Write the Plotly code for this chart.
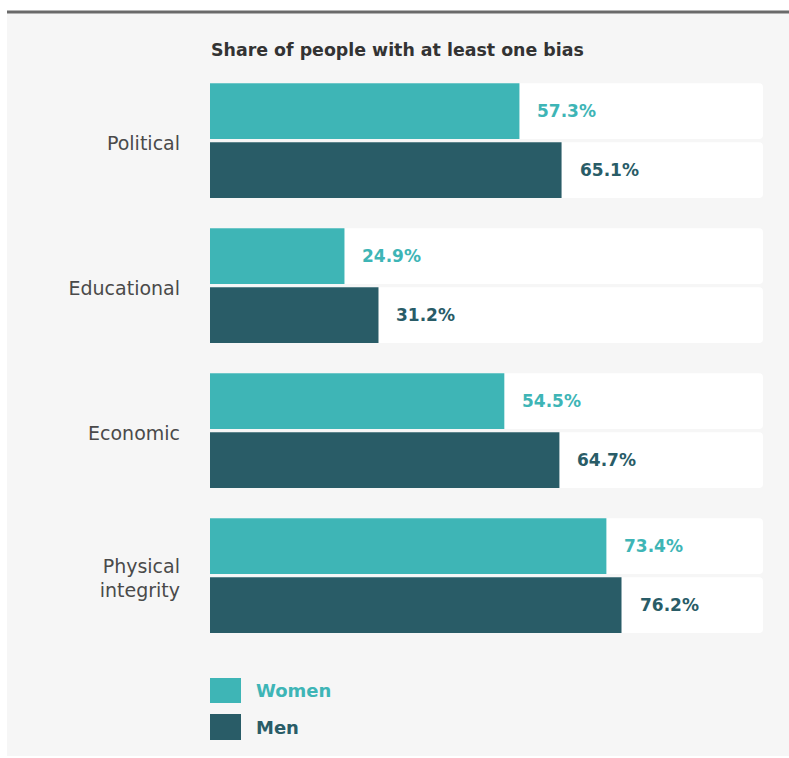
import plotly.graph_objects as go

categories = ["Political", "Educational", "Economic", "Physical<br>integrity"]
women = [57.3, 24.9, 54.5, 73.4]
men = [65.1, 31.2, 64.7, 76.2]
track_max = 102.4
title_text = "Share of people with at least one bias"
series_names = ["Women", "Men"]

C_WOMEN = "#3eb5b6"
C_MEN = "#295c67"
BG = "#f6f6f6"

W, H = 789, 758
L, R, T, B = 210, 26, 68, 110
PW, PH = W - L - R, H - T - B


def px(x):
    return (x - L) / PW


def py(y):
    return 1 - (y - T) / PH


fig = go.Figure()
BW = 0.385
OFF_W = -0.395
OFF_M = 0.012

for off in (OFF_W, OFF_M):
    fig.add_trace(go.Bar(
        y=categories, x=[track_max] * len(categories), orientation="h",
        marker=dict(color="#ffffff", line=dict(width=0), cornerradius=4),
        width=BW, offset=off, hoverinfo="skip", showlegend=False))

fig.add_trace(go.Bar(y=categories, x=women, orientation="h", name=series_names[0],
                     marker=dict(color=C_WOMEN, line=dict(width=0)),
                     width=BW, offset=OFF_W, showlegend=False))
fig.add_trace(go.Bar(y=categories, x=men, orientation="h", name=series_names[1],
                     marker=dict(color=C_MEN, line=dict(width=0)),
                     width=BW, offset=OFF_M, showlegend=False))

FONT = "'DejaVu Sans', 'Open Sans', Arial, sans-serif"
annotations = []
unit_px = PH / len(categories)
for i, cat in enumerate(categories):
    annotations.append(dict(x=women[i], y=cat, xref="x", yref="y", text="<b>%.1f%%</b>" % women[i],
                            showarrow=False, xanchor="left", xshift=16,
                            yshift=-(OFF_W + BW / 2) * unit_px,
                            font=dict(family=FONT, size=17, color=C_WOMEN)))
    annotations.append(dict(x=men[i], y=cat, xref="x", yref="y", text="<b>%.1f%%</b>" % men[i],
                            showarrow=False, xanchor="left", xshift=16,
                            yshift=-(OFF_M + BW / 2) * unit_px,
                            font=dict(family=FONT, size=17, color=C_MEN)))

annotations.append(dict(x=px(209), y=py(50), xref="paper", yref="paper", xanchor="left", yanchor="middle",
                        text="<b>" + title_text + "</b>", showarrow=False,
                        font=dict(family=FONT, size=17.4, color="#333333")))

shapes = [
    dict(type="rect", xref="paper", yref="paper", x0=px(0), x1=px(W), y0=py(12), y1=py(0),
         fillcolor="#ffffff", line=dict(width=0), layer="below"),
    dict(type="rect", xref="paper", yref="paper", x0=px(0), x1=px(7), y0=py(H), y1=py(0),
         fillcolor="#ffffff", line=dict(width=0), layer="below"),
    dict(type="rect", xref="paper", yref="paper", x0=px(0), x1=px(W), y0=py(H), y1=py(756),
         fillcolor="#ffffff", line=dict(width=0), layer="below"),
    dict(type="line", xref="paper", yref="paper", x0=px(7), x1=px(W), y0=py(12), y1=py(12),
         line=dict(color="#6a6a6a", width=3)),
]
leg = [(series_names[0], C_WOMEN, 678, 703), (series_names[1], C_MEN, 714, 740)]
for name, col, y0, y1 in leg:
    shapes.append(dict(type="rect", xref="paper", yref="paper", x0=px(210), x1=px(241),
                       y0=py(y1), y1=py(y0), fillcolor=col, line=dict(width=0)))
    annotations.append(dict(x=px(254), y=py((y0 + y1) / 2), xref="paper", yref="paper",
                            xanchor="left", yanchor="middle", text="<b>" + name + "</b>",
                            showarrow=False, font=dict(family=FONT, size=18, color=col)))

fig.update_layout(
    width=W, height=H,
    margin=dict(l=L, r=R, t=T, b=B),
    paper_bgcolor=BG, plot_bgcolor="rgba(0,0,0,0)",
    barmode="overlay",
    showlegend=False,
    annotations=annotations, shapes=shapes,
    xaxis=dict(range=[0, track_max], visible=False, fixedrange=True),
    yaxis=dict(categoryorder="array", categoryarray=categories, autorange="reversed",
               showgrid=False, zeroline=False, showline=False, ticks="",
               ticklabelstandoff=29, ticklabelshift=-3,
               tickfont=dict(family=FONT, size=19, color="#4a4a4a")),
    font=dict(family=FONT),
)

fig.write_html("out.html")
